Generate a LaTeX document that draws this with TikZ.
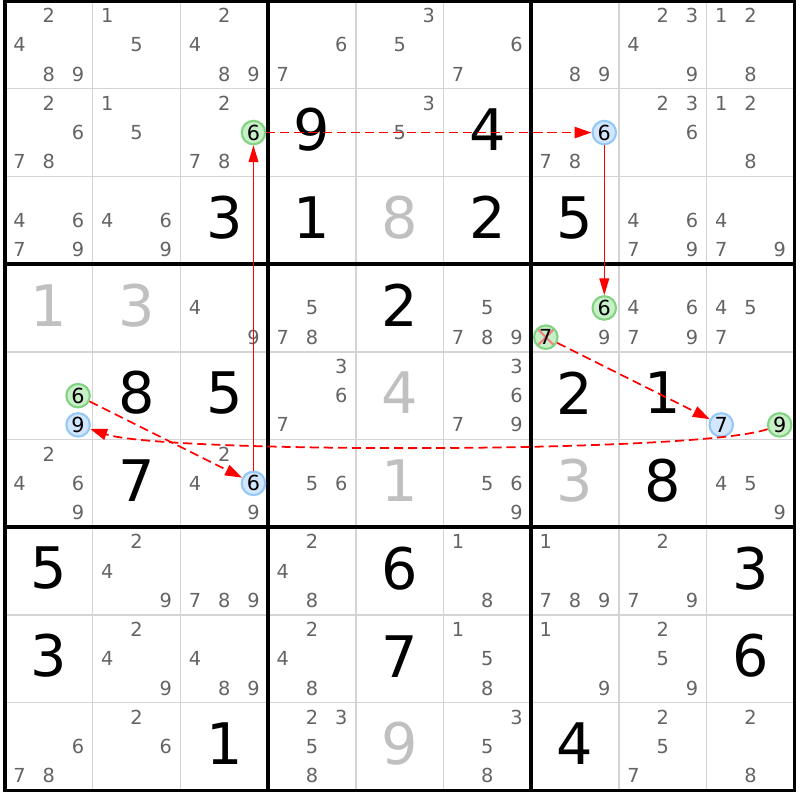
\documentclass[tikz,border=0pt]{standalone}
\usepackage{fontspec}
\setmainfont{DejaVu Sans}
\usepackage{tikz}
\usetikzlibrary{arrows.meta}

\definecolor{candgray}{RGB}{100,100,100}
\definecolor{solvedgray}{RGB}{192,192,192}
\definecolor{gridgray}{RGB}{212,212,212}
\definecolor{ongreen}{RGB}{130,210,130}
\definecolor{onfill}{RGB}{200,240,200}
\definecolor{offblue}{RGB}{150,200,245}
\definecolor{offfill}{RGB}{210,230,255}
\definecolor{crossred}{RGB}{240,130,130}

\begin{document}
\begin{tikzpicture}[x=0.877cm, y=-0.877cm,
    cand/.style={font=\fontsize{5.5}{6}\selectfont, text=candgray, inner sep=0pt},
    given/.style={font=\fontsize{16.3}{18}\selectfont, text=black, inner sep=0pt},
    solved/.style={given, text=solvedgray},
    oncand/.style={circle, draw=ongreen, fill=onfill, line width=0.6pt, minimum size=0.235cm,
        inner sep=0pt, font=\fontsize{5.9}{6}\selectfont, text=black},
    offcand/.style={oncand, draw=offblue, fill=offfill},
    crossed/.style={oncand, path picture={\draw[crossred, line width=0.6pt]
        (path picture bounding box.north west) -- (path picture bounding box.south east)
        (path picture bounding box.north east) -- (path picture bounding box.south west);}},
    strong link/.style={draw=red, line width=0.35pt, -{Triangle[length=4.8pt, width=2.8pt]}},
    weak link/.style={draw=red, line width=0.5pt, dash pattern=on 2.6pt off 1.4pt,
        -{Triangle[length=4.8pt, width=3.2pt]}},
    cell line/.style={draw=gridgray, line width=0.45pt},
    box line/.style={draw=black, line width=1pt}]

    \useasboundingbox (-0.057,-0.0114) rectangle (9.065,9.1106);
    \fill[white] (-0.057,-0.0114) rectangle (9.065,9.1106);

    % Cell lines
    \foreach \i in {1,2,4,5,7,8} {
        \draw[cell line] (\i,0) -- (\i,9);
        \draw[cell line] (0,\i) -- (9,\i);
    }

    % Box lines and border
    \foreach \i in {3,6} {
        \draw[box line] (\i,0) -- (\i,9);
        \draw[box line] (0,\i) -- (9,\i);
    }
    \draw[box line] (0,0) rectangle (9,9);

    % Given digits
    \foreach \r/\c/\v in {2/4/9, 2/6/4, 3/3/3, 3/4/1, 3/6/2, 3/7/5, 4/5/2, 5/2/8, 5/3/5,
        5/7/2, 5/8/1, 6/2/7, 6/8/8, 7/1/5, 7/5/6, 7/9/3, 8/1/3, 8/5/7, 8/9/6, 9/3/1, 9/7/4}
        \node[given] (v\r\c) at (\c-0.5,\r-0.53) {\v};

    % Solved digits
    \foreach \r/\c/\v in {3/5/8, 4/1/1, 4/2/3, 5/5/4, 6/5/1, 6/7/3, 9/5/9}
        \node[solved] (v\r\c) at (\c-0.5,\r-0.53) {\v};

    % Candidates
    \foreach \r/\c/\ds in {1/1/{2,4,8,9}, 1/2/{1,5}, 1/3/{2,4,8,9}, 1/4/{6,7}, 1/5/{3,5},
        1/6/{6,7}, 1/7/{8,9}, 1/8/{2,3,4,9}, 1/9/{1,2,8},
        2/1/{2,6,7,8}, 2/2/{1,5}, 2/3/{2,7,8}, 2/5/{3,5}, 2/7/{7,8}, 2/8/{2,3,6}, 2/9/{1,2,8},
        3/1/{4,6,7,9}, 3/2/{4,6,9}, 3/8/{4,6,7,9}, 3/9/{4,7,9},
        4/3/{4,9}, 4/4/{5,7,8}, 4/6/{5,7,8,9}, 4/7/{9}, 4/8/{4,6,7,9}, 4/9/{4,5,7},
        5/4/{3,6,7}, 5/6/{3,6,7,9},
        6/1/{2,4,6,9}, 6/3/{2,4,9}, 6/4/{5,6}, 6/6/{5,6,9}, 6/9/{4,5,9},
        7/2/{2,4,9}, 7/3/{7,8,9}, 7/4/{2,4,8}, 7/6/{1,8}, 7/7/{1,7,8,9}, 7/8/{2,7,9},
        8/2/{2,4,9}, 8/3/{4,8,9}, 8/4/{2,4,8}, 8/6/{1,5,8}, 8/7/{1,9}, 8/8/{2,5,9},
        9/1/{6,7,8}, 9/2/{2,6}, 9/4/{2,3,5,8}, 9/6/{3,5,8}, 9/8/{2,5,7}, 9/9/{2,8}}
        \foreach \d in \ds
            \node[cand] (c\r\c\d) at ({\c-1+(2*mod(\d-1,3)+1)/6}, {\r-1+(2*int((\d-1)/3)+1)/6}) {\d};

    % Chain candidates
    \node[oncand] (sixR2C3) at (2.8333,1.5) {6};
    \node[offcand] (sixR2C7) at (6.8333,1.5) {6};
    \node[oncand] (sixR4C7) at (6.8333,3.5) {6};
    \node[crossed] (sevenR4C7) at (6.1667,3.8333) {7};
    \node[offcand] (sevenR5C9) at (8.1667,4.8333) {7};
    \node[oncand] (nineR5C9) at (8.8333,4.8333) {9};
    \node[offcand] (nineR5C1) at (0.8333,4.8333) {9};
    \node[oncand] (sixR5C1) at (0.8333,4.5) {6};
    \node[offcand] (sixR6C3) at (2.8333,5.5) {6};

    % Links
    \draw[strong link] (sixR6C3) -- (sixR2C3);
    \draw[weak link] (sixR2C3) -- (sixR2C7);
    \draw[strong link] (sixR2C7) -- (sixR4C7);
    \draw[weak link] (sevenR4C7) -- (sevenR5C9);
    \draw[weak link] (nineR5C9) .. controls (7.9,5.16) and (1.8,5.16) .. (nineR5C1);
    \draw[weak link] (sixR5C1) -- (sixR6C3);
\end{tikzpicture}
\end{document}
